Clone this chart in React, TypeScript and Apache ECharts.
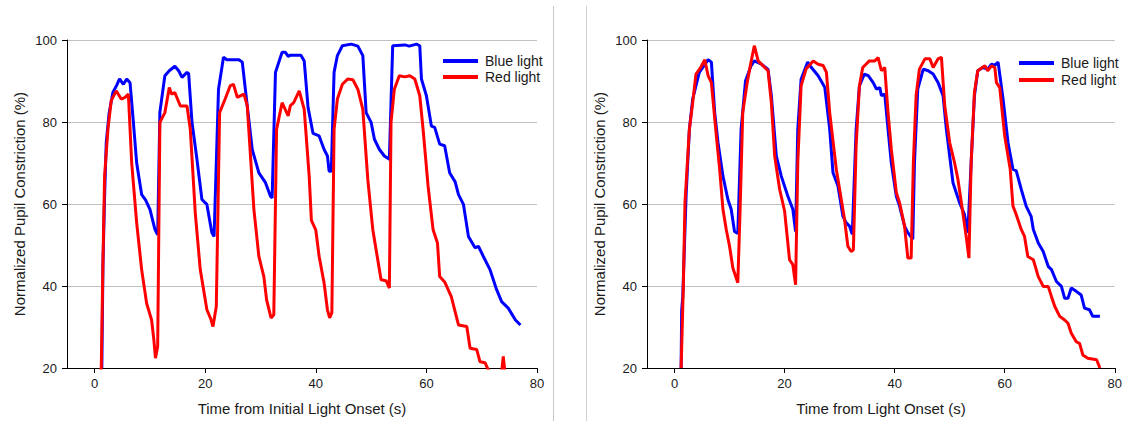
import React, { useEffect, useRef } from "react";
import * as echarts from "echarts";

const xTicks = [0, 20, 40, 60, 80];
const yTicks = [20, 40, 60, 80, 100];
const legendNames = ["Blue light", "Red light"];
const xNames = ["Time from Initial Light Onset (s)", "Time from Light Onset (s)"];
const yName = "Normalized Pupil Constriction (%)";

const leftBlue: number[][] = [
  [1.3, 20], [1.5, 45], [1.8, 62], [2.1, 75], [2.6, 82], [3.3, 87.2], [4.0, 89], [4.5, 90.5], [5.2, 89.2],
  [5.8, 90.5], [6.4, 89.6], [7.0, 80], [7.6, 70], [8.5, 62.3], [9.2, 61], [10.0, 58.7], [10.9, 53.8],
  [11.4, 52.5], [11.8, 82.4], [12.7, 91.3], [13.5, 92.5], [14.5, 93.6], [15.2, 92.5], [15.8, 90.9],
  [16.7, 92.1], [17.0, 91.8], [17.6, 80], [18.5, 70.9], [19.4, 61.1], [20.3, 59.9], [21.2, 53],
  [21.6, 52.1], [22.4, 88], [23.3, 95.8], [23.9, 95.2], [26.1, 95.2], [26.7, 94.6], [27.6, 83.9],
  [28.5, 73.3], [29.7, 67.6], [30.9, 65.2], [31.8, 61.9], [32.1, 61.5], [32.7, 92.1], [33.9, 97],
  [34.5, 97], [35.0, 96], [35.4, 96.3], [37.3, 96.3], [37.9, 94.9], [38.6, 83.5], [39.5, 77.2],
  [40.6, 76.6], [41.5, 73.3], [42.1, 71.7], [42.4, 68], [42.8, 68], [43.3, 92.1], [43.9, 96.2],
  [44.8, 98.6], [46.4, 99], [47.6, 98.5], [48.5, 96.2], [49.1, 82.3], [50.0, 79.9], [50.6, 75.8],
  [51.5, 73.3], [52.4, 71.7], [53.3, 70.9], [53.9, 98.6], [56.1, 98.8], [56.9, 98.5], [58.2, 99],
  [58.8, 98.6], [59.1, 90.5], [60.0, 86.4], [60.9, 79], [61.5, 78.7], [62.4, 74.6], [63.3, 74.2],
  [64.2, 67.6], [65.2, 65.4], [65.8, 62.3], [66.7, 59.9], [67.6, 52.1], [68.8, 49.3], [69.4, 49.7],
  [70.3, 47.2], [71.5, 44], [72.7, 39.1], [73.6, 36.2], [74.8, 34.6], [76.1, 31.7], [77.0, 30.5],
];

const leftRed: number[][] = [
  [1.1, 19], [1.2, 20.3], [1.5, 45.7], [1.8, 66.8], [2.4, 78.2], [3.0, 85.2], [3.9, 87.6], [4.8, 85.6],
  [5.5, 86], [6.1, 86.8], [6.7, 70], [7.6, 55.4], [8.5, 44], [9.4, 35.8], [10.3, 31.7], [10.7, 27],
  [11.0, 22.4], [11.4, 25.3], [11.8, 79.9], [12.7, 82.3], [13.5, 88.4], [13.9, 86.8], [14.5, 87.2],
  [15.5, 83.9], [16.7, 83.9], [17.3, 78.2], [18.2, 57.8], [19.1, 44], [20.3, 34.2], [21.0, 32],
  [21.4, 30.1], [22.0, 35], [22.6, 82.3], [23.6, 85.6], [24.5, 88.8], [25.1, 89.2], [25.8, 86],
  [27.0, 86.8], [27.6, 84], [28.8, 58.7], [29.7, 47.2], [30.6, 42.3], [31.1, 36.6], [31.9, 32.2],
  [32.4, 33], [32.9, 78.2], [33.9, 84.7], [35.0, 81.5], [35.4, 84], [36.0, 84.7], [37.0, 87.6],
  [37.9, 83.1], [38.8, 66.8], [39.2, 56], [40.0, 53.6], [40.6, 47.2], [41.5, 40.7], [42.1, 34.2],
  [42.5, 32.2], [42.9, 33.5], [43.3, 78.2], [43.9, 85.6], [44.8, 89.2], [45.8, 90.5], [46.7, 90.3],
  [47.6, 88], [48.5, 83.1], [49.4, 66], [50.3, 53.8], [51.2, 46.4], [51.8, 41.5], [52.7, 41.3],
  [53.3, 39.5], [53.6, 79.9], [54.2, 88], [55.1, 91.3], [56.1, 91], [57.0, 91.3], [57.9, 90.5],
  [58.8, 86.4], [59.4, 78.2], [60.3, 64.4], [61.2, 53.8], [62.0, 50.5], [62.4, 42.3], [63.3, 41],
  [64.5, 37.4], [65.8, 30.5], [67.3, 30.1], [67.9, 24.8], [69.1, 24.5], [69.7, 21.5], [70.6, 21.3],
  [71.2, 19.5], [72.5, 18], [73.6, 19], [73.9, 22.8], [74.2, 19], [75.5, 17],
];

const rightBlue: number[][] = [
  [1.2, 20], [1.3, 34], [1.5, 37.4], [2.1, 61.9], [2.7, 78.2], [3.3, 85.6], [4.5, 92.1], [5.5, 94],
  [6.1, 95.2], [6.7, 94.6], [7.3, 82.3], [7.9, 75], [8.8, 66.8], [9.7, 61.1], [10.3, 58.7], [10.9, 53.3],
  [11.5, 52.8], [12.1, 78.2], [12.9, 90], [13.9, 93.7], [14.5, 94.9], [15.8, 94.1], [17.0, 92.8],
  [17.6, 86.4], [18.5, 71.7], [19.4, 66.8], [20.6, 61.9], [21.5, 58.7], [22.0, 53.3], [22.4, 78.2],
  [23.0, 90.4], [24.2, 94.6], [24.8, 93.4], [26.1, 91.3], [27.3, 88.5], [28.2, 78.2], [28.8, 67.6],
  [29.7, 64.4], [30.6, 57], [31.2, 55.4], [31.8, 54.6], [32.3, 52.6], [33.0, 78.2], [33.6, 88.8],
  [34.5, 91.7], [35.2, 91.3], [36.1, 89.6], [36.7, 88], [37.3, 88.4], [37.6, 86.4], [38.2, 86.8],
  [38.8, 78.2], [39.4, 70], [40.3, 61.9], [40.9, 59.5], [41.8, 54.6], [42.4, 53], [43.3, 51.4],
  [43.6, 70], [44.2, 88], [45.2, 92.9], [46.1, 92.5], [47.0, 91.7], [47.9, 89.6], [48.8, 86.4],
  [49.4, 78.2], [50.0, 71.7], [50.6, 65.2], [51.8, 60.3], [52.7, 57.4], [53.3, 53], [53.9, 70],
  [54.5, 86.4], [55.1, 92.5], [56.0, 93.3], [56.9, 92.9], [57.6, 94.1], [58.2, 93.8], [58.8, 94.6],
  [59.7, 85.6], [60.6, 75], [61.5, 68.5], [62.1, 68.1], [63.0, 63.6], [63.9, 59.5], [64.8, 57],
  [65.2, 53.8], [66.1, 50.5], [67.0, 48.4], [67.9, 44.8], [68.5, 44], [69.4, 41.1], [70.3, 39.9],
  [70.9, 37], [71.5, 37], [72.1, 39.5], [73.0, 38.7], [73.9, 37.8], [74.5, 34.6], [75.4, 34.2],
  [76.0, 32.6], [77.3, 32.6],
];

const rightRed: number[][] = [
  [1.2, 20], [1.6, 39.9], [1.9, 60.3], [2.7, 78.2], [3.3, 84.7], [3.9, 91.7], [4.8, 93.4], [5.5, 95.2],
  [6.1, 91.3], [6.7, 89.6], [7.6, 76.6], [8.2, 68.5], [8.8, 58.7], [9.4, 53.8], [10.0, 49.7], [10.6, 44.4],
  [11.5, 40.8], [11.9, 57.8], [12.4, 82.3], [13.2, 89.6], [13.9, 94.6], [14.5, 98.6], [15.2, 94.9],
  [16.1, 93.7], [17.0, 92.5], [17.6, 84.7], [18.2, 71.7], [19.1, 63.6], [20.0, 58.3], [20.9, 46.4],
  [21.5, 45.2], [22.0, 40.3], [22.4, 70], [23.0, 88.8], [23.9, 92.9], [25.2, 94.9], [26.1, 94.1],
  [27.0, 93.8], [27.6, 92.1], [28.2, 82.3], [29.4, 68.5], [30.3, 61.1], [30.9, 56.2], [31.5, 49.7],
  [32.1, 48.4], [32.5, 48.8], [33.0, 74.2], [33.6, 88.8], [34.2, 93.3], [34.8, 94.1], [35.4, 94.9],
  [36.4, 94.9], [37.0, 95.7], [37.6, 92.5], [38.2, 93.3], [38.8, 82.3], [39.4, 73.3], [40.3, 62.8],
  [40.9, 60.3], [41.8, 54.6], [42.4, 46.8], [43.0, 46.8], [43.4, 70], [43.9, 86.4], [44.5, 92.9],
  [45.5, 95.4], [46.4, 95.4], [47.0, 93.3], [47.9, 95.4], [48.5, 95.8], [49.1, 84], [50.0, 75],
  [50.9, 70], [51.5, 66], [52.4, 57.8], [53.0, 52.1], [53.5, 46.8], [53.9, 70], [54.5, 87.2],
  [55.1, 92.5], [56.4, 93.7], [56.9, 92.5], [57.6, 93.7], [58.2, 93.3], [58.5, 89.6], [59.1, 88.4],
  [60.0, 76.6], [61.0, 68.5], [61.5, 59.5], [62.1, 57.4], [63.0, 53.8], [63.6, 52.1], [64.2, 47.2],
  [65.2, 46.4], [66.1, 42.3], [67.0, 39.9], [67.9, 39.9], [68.5, 37.4], [69.1, 35], [70.0, 32.6],
  [70.9, 31.7], [71.5, 30.9], [72.1, 28.5], [73.0, 26.4], [73.6, 26], [74.2, 23.2], [75.1, 22.4],
  [76.7, 22], [77.3, 20],
];

const FONT = "'Liberation Sans', Arial, sans-serif";
const TEXT = "#1a1a1a";
const BLUE = "#0000ff";
const RED = "#ff0000";

function xAxis(i: number, name: string) {
  return {
    type: "value",
    gridIndex: i,
    min: -5,
    max: 80,
    name,
    nameLocation: "middle",
    nameGap: 33,
    nameTextStyle: { fontFamily: FONT, fontSize: 15, color: TEXT },
    axisLine: { show: true, onZero: false, lineStyle: { color: "#000", width: 1 } },
    axisTick: { show: true, length: 5, lineStyle: { color: "#000" }, customValues: xTicks },
    axisLabel: { fontFamily: FONT, fontSize: 13, color: TEXT, margin: 9, customValues: xTicks },
    splitLine: { show: false },
  };
}

function yAxis(i: number) {
  return {
    type: "value",
    gridIndex: i,
    min: yTicks[0],
    max: yTicks[yTicks.length - 1],
    interval: 20,
    name: yName,
    nameLocation: "middle",
    nameGap: 40,
    nameTextStyle: { fontFamily: FONT, fontSize: 15, color: TEXT },
    axisLine: { show: true, onZero: false, lineStyle: { color: "#000", width: 1 } },
    axisTick: { show: true, length: 5, lineStyle: { color: "#000" } },
    axisLabel: { fontFamily: FONT, fontSize: 13, color: TEXT, margin: 10 },
    splitLine: { show: true, lineStyle: { color: "#c0c0c0", width: 1 } },
  };
}

function line(name: string, data: number[][], idx: number, color: string) {
  return {
    type: "line",
    name,
    xAxisIndex: idx,
    yAxisIndex: idx,
    data,
    showSymbol: false,
    symbol: "none",
    clip: true,
    color,
    lineStyle: { color, width: 3 },
    itemStyle: { color },
  };
}

function legend(left: number, top: number, gap: number) {
  return {
    data: legendNames,
    orient: "vertical",
    left,
    top,
    icon: "rect",
    itemWidth: 35,
    itemHeight: 4,
    itemGap: gap,
    padding: 0,
    selectedMode: false,
    textStyle: { fontFamily: FONT, fontSize: 14, color: TEXT, lineHeight: 16, padding: [0, 0, 0, 2] },
  };
}

export default function App() {
  const ref = useRef<HTMLDivElement>(null);
  useEffect(() => {
    if (!ref.current) return;
    const chart = echarts.init(ref.current, undefined, { renderer: "svg" });
    chart.setOption({
      animation: false,
      backgroundColor: "#ffffff",
      grid: [
        { left: 67, top: 40, width: 470, height: 329 },
        { left: 647, top: 40, width: 468, height: 329 },
      ],
      xAxis: [xAxis(0, xNames[0]), xAxis(1, xNames[1])],
      yAxis: [yAxis(0), yAxis(1)],
      legend: [legend(443, 53, 0), legend(1019, 55, 1)],
      graphic: [
        { type: "line", shape: { x1: 553.5, y1: 6, x2: 553.5, y2: 421 }, style: { stroke: "#c8c8c8", lineWidth: 1 } },
        { type: "line", shape: { x1: 586.5, y1: 6, x2: 586.5, y2: 421 }, style: { stroke: "#d0d0d0", lineWidth: 1 } },
      ],
      series: [
        line("Blue light", leftBlue, 0, BLUE),
        line("Red light", leftRed, 0, RED),
        line("Blue light", rightBlue, 1, BLUE),
        line("Red light", rightRed, 1, RED),
      ],
    });
    return () => chart.dispose();
  }, []);
  return (
    <div style={{ position: "fixed", left: 0, top: 0, width: 1125, height: 421, background: "#fff" }}>
      <div ref={ref} style={{ width: 1125, height: 421 }} />
    </div>
  );
}
